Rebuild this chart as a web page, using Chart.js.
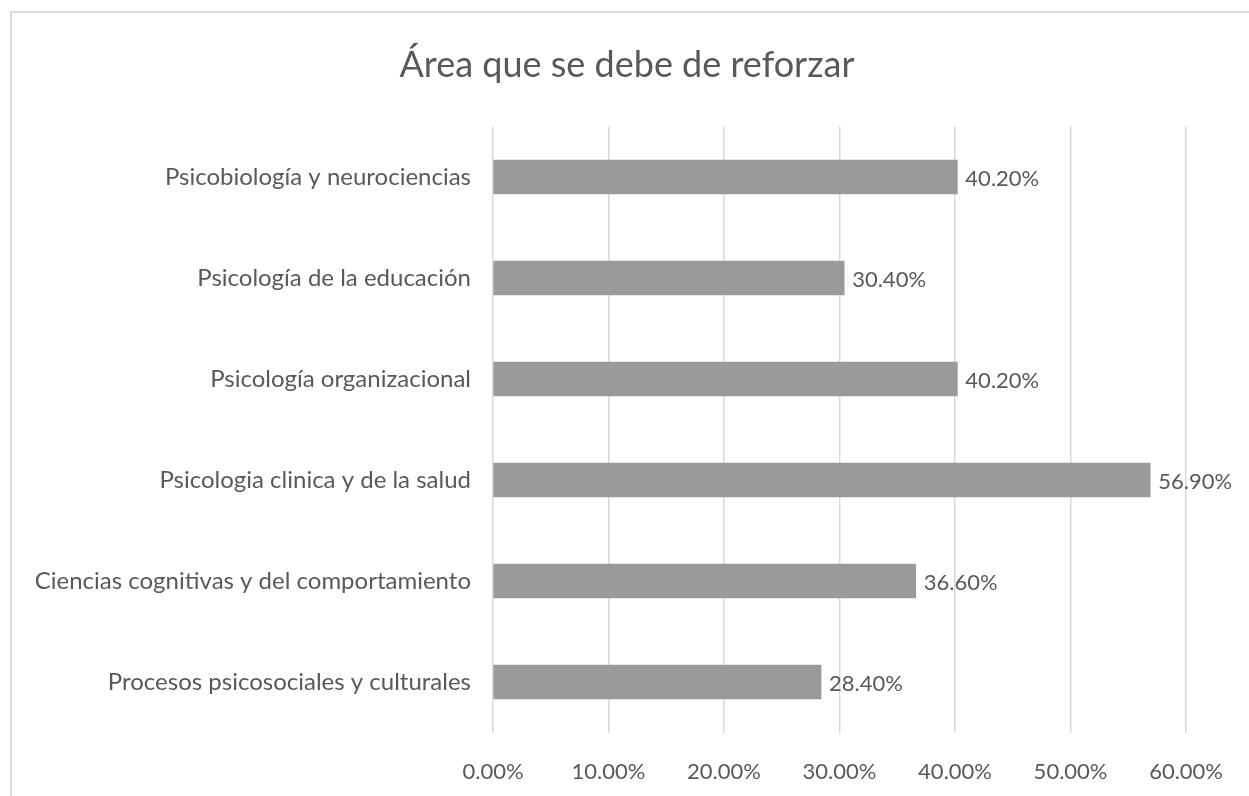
<!DOCTYPE html>
<html>
<head>
<meta charset="utf-8">
<script src="https://cdn.jsdelivr.net/npm/chart.js@4/dist/chart.umd.min.js"></script>
<style>
  html, body { margin: 0; padding: 0; background: #ffffff; }
  #wrap { position: relative; width: 1249px; height: 796px; overflow: hidden; }
  #frame { position: absolute; left: 10px; top: 11px; width: 1300px; height: 900px;
           border-left: 2px solid #d9d9d9; border-top: 2px solid #d9d9d9; box-sizing: border-box; }
  canvas { position: absolute; left: 0; top: 0; }
</style>
</head>
<body>
<div id="wrap">
  <div id="frame"></div>
  <canvas id="c" width="1249" height="796"></canvas>
</div>
<script>
const chartTitle = 'Área que se debe de reforzar';
const categories = [
  'Psicobiología y neurociencias',
  'Psicología de la educación',
  'Psicología organizacional',
  'Psicologia clinica y de la salud',
  'Ciencias cognitivas y del comportamiento',
  'Procesos psicosociales y culturales'
];
const values = [40.2, 30.4, 40.2, 56.9, 36.6, 28.4];
const xTicks = [0, 10, 20, 30, 40, 50, 60];

const FONT = 'Lato, "Open Sans", sans-serif';
const TXT = '#595959';

const dataLabels = {
  id: 'dataLabels',
  afterDatasetsDraw(chart) {
    const ctx = chart.ctx;
    const meta = chart.getDatasetMeta(0);
    ctx.save();
    ctx.font = '22px ' + FONT;
    ctx.fillStyle = TXT;
    ctx.textAlign = 'left';
    ctx.textBaseline = 'middle';
    meta.data.forEach((bar, i) => {
      ctx.fillText(values[i].toFixed(2) + '%', bar.x + 8, bar.y + 2);
    });
    ctx.restore();
  }
};

new Chart(document.getElementById('c'), {
  type: 'bar',
  data: {
    labels: categories,
    datasets: [{
      data: values,
      backgroundColor: '#9a9a9a',
      borderWidth: 0,
      barThickness: 34
    }]
  },
  options: {
    indexAxis: 'y',
    responsive: false,
    animation: false,
    devicePixelRatio: 1,
    layout: { padding: { left: 65, right: 60, top: 0, bottom: 0 } },
    plugins: {
      legend: { display: false },
      tooltip: { enabled: false },
      title: {
        display: true,
        text: chartTitle,
        color: TXT,
        font: { family: FONT, size: 36, weight: 'normal' },
        padding: { top: 44, bottom: 39.3 }
      }
    },
    scales: {
      x: {
        min: 0, max: 60,
        afterBuildTicks(scale) { scale.ticks = xTicks.map(v => ({ value: v })); },
        afterFit(scale) { scale.height = 63.5; },
        grid: { color: '#d9d9d9', lineWidth: 1.5, drawTicks: false },
        border: { display: false },
        ticks: {
          color: TXT,
          padding: 26,
          font: { family: FONT, size: 22 },
          callback: v => Number(v).toFixed(2) + '%',
          maxRotation: 0
        }
      },
      y: {
        afterFit(scale) {
          scale.width = 428;
          // let long labels extend into the left padding without being clipped
          scale._computeLabelArea = () => undefined;
        },
        grid: { display: false },
        border: { display: false },
        ticks: {
          color: TXT,
          padding: 14,
          font: { family: FONT, size: 24 },
          autoSkip: false
        }
      }
    }
  },
  plugins: [dataLabels]
});
</script>
</body>
</html>
